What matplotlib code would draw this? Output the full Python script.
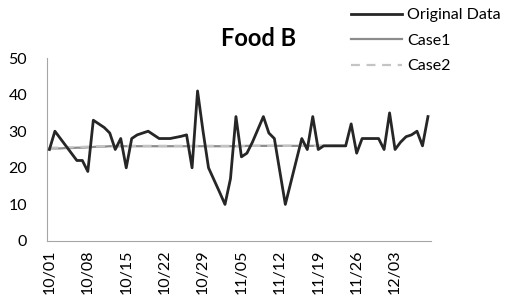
import numpy as np
import matplotlib.pyplot as plt

plt.rcParams['font.family'] = ['Lato', 'DejaVu Sans']

# daily observations, 10/01 .. 12/09
days = ['10/01', '10/02', '10/03', '10/04', '10/05', '10/06', '10/07', '10/08', '10/09', '10/10',
        '10/11', '10/12', '10/13', '10/14', '10/15', '10/16', '10/17', '10/18', '10/19', '10/20',
        '10/21', '10/22', '10/23', '10/24', '10/25', '10/26', '10/27', '10/28', '10/29', '10/30',
        '10/31', '11/01', '11/02', '11/03', '11/04', '11/05', '11/06', '11/07', '11/08', '11/09',
        '11/10', '11/11', '11/12', '11/13', '11/14', '11/15', '11/16', '11/17', '11/18', '11/19',
        '11/20', '11/21', '11/22', '11/23', '11/24', '11/25', '11/26', '11/27', '11/28', '11/29',
        '11/30', '12/01', '12/02', '12/03', '12/04', '12/05', '12/06', '12/07', '12/08', '12/09']

original = [25, 30, 28, 26, 24, 22, 22, 19, 33, 32,
            31, 29.5, 25, 28, 20, 28, 29, 29.5, 30, 29,
            28, 28, 28, 28.3, 28.6, 29, 20, 41, 30, 20,
            16.7, 13.4, 10, 17, 34, 23, 24, 27, 30.5, 34,
            29.5, 28, 19, 10, 16, 22, 28, 25, 34, 25,
            26, 26, 26, 26, 26, 32, 24, 28, 28, 28,
            28, 25, 35, 25, 27, 28.5, 29, 30, 26, 34]

case1 = [25.3, 25.3, 25.3, 25.4, 25.4, 25.5, 25.5, 25.6, 25.7, 25.8,
         25.8, 25.9, 25.9, 25.9, 25.9, 25.9, 25.9, 25.9, 25.9, 25.9,
         25.9, 25.9, 25.9, 25.9, 25.9, 25.9, 25.9, 25.9, 25.9, 25.9,
         25.9, 25.9, 25.9, 25.9, 25.9, 25.9, 26.0, 26.0, 26.0, 26.0,
         26.0, 26.0, 26.0, 26.0, 26.0, 26.0, 26.0, 26.0, 26.0, 26.0,
         26.0, 26.0, 26.0, 26.0, 26.0]

case2 = [25.5, 25.5, 25.5, 25.6, 25.6, 25.7, 25.7, 25.8, 25.8, 25.9,
         25.9, 26.0, 26.0, 26.0, 26.0, 26.0, 26.0, 26.0, 26.0, 26.0,
         26.0, 26.0, 26.0, 26.0, 26.0, 26.0, 26.0, 26.0, 26.0, 26.0,
         26.0, 26.0, 26.0, 26.0, 26.0, 26.0, 26.0, 26.0, 26.0, 26.0,
         26.0, 26.0, 26.0, 26.0, 26.0, 26.0, 26.0, 26.0, 26.0, 26.0,
         26.0, 26.0, 26.0, 26.0, 26.0]

fig = plt.figure(figsize=(5.09, 3.07), dpi=100)
ax = fig.add_axes([0.0917, 0.215, 0.7545, 0.596])

x = np.arange(len(days))
ax.plot(x, original, color='#262626', lw=2.0, label='Original Data', zorder=3)
ax.plot(x[:len(case1)], case1, color='#8c8c8c', lw=1.6, label='Case1', zorder=2)
ax.plot(x[:len(case2)], case2, color='#c4c4c4', lw=1.6, ls=(0, (4, 3)), label='Case2', zorder=2.5)

ax.set_xlim(-0.5, len(days) - 0.5)
ax.set_ylim(0, 50)
ax.set_yticks(range(0, 51, 10))
ax.set_xticks(x[::7])
ax.set_xticklabels(days[::7], rotation=90)
ax.tick_params(length=0, labelsize=11.5, colors='black', pad=6)
ax.tick_params(axis='y', pad=14)
for s in ['top', 'right']:
    ax.spines[s].set_visible(False)
for s in ['left', 'bottom']:
    ax.spines[s].set_color('#a6a6a6')

fig.text(0.507, 0.876, 'Food B', ha='center', va='center', fontsize=17, fontweight='bold')

fig.legend(loc='upper left', bbox_to_anchor=(0.677, 0.995), frameon=False, fontsize=11.5,
           handlelength=3.2, handletextpad=0.3, labelspacing=0.72, borderaxespad=0)

plt.savefig('out.png', dpi=100)
